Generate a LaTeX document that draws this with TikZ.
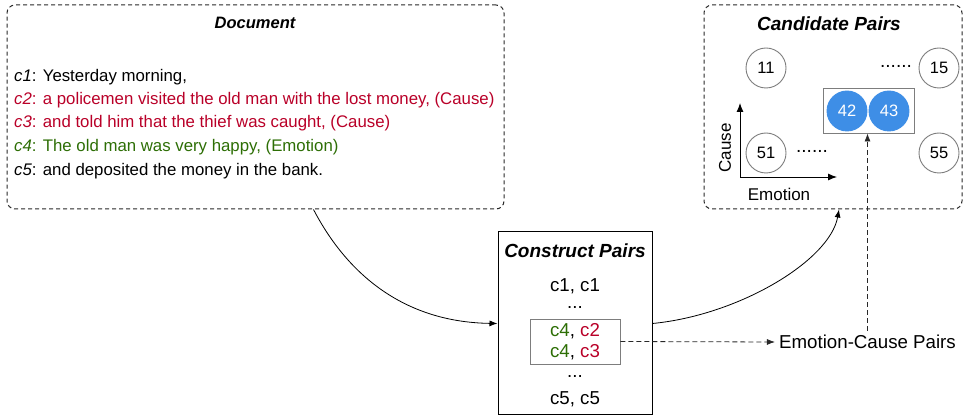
\documentclass[tikz,border=0pt]{standalone}
\usepackage{fontspec}
\setmainfont{Liberation Sans}
\usetikzlibrary{arrows.meta,positioning,calc}
\definecolor{ecred}{RGB}{185,0,40}
\definecolor{ecgreen}{RGB}{45,110,5}
\definecolor{ecblue}{RGB}{62,142,230}
\definecolor{ecgray}{RGB}{125,125,125}
\definecolor{ecdark}{RGB}{40,40,40}

\begin{document}
\begin{tikzpicture}[x=1pt, y=-1pt,
  panel/.style={draw=ecdark, dash pattern=on 4pt off 3pt, rounded corners=8pt,
                line width=1pt, inner sep=0pt},
  title/.style={font=\fontsize{19}{22}\selectfont\bfseries\itshape},
  clause/.style={anchor=west, inner sep=0pt, font=\fontsize{16.8}{20}\selectfont},
  pair/.style={font=\fontsize{18.7}{22}\selectfont, inner sep=0pt},
  cand/.style={circle, draw=ecgray, fill=white, minimum size=40pt, inner sep=0pt,
               line width=0.9pt, font=\fontsize{16.5}{20}\selectfont},
  hit/.style={cand, draw=ecblue, fill=ecblue, text=white},
  selbox/.style={draw=ecgray, line width=0.9pt, inner sep=0pt},
  arr/.style={-{Latex[length=8pt,width=6pt]}, line width=0.8pt},
  darr/.style={arr, dash pattern=on 5pt off 3pt, draw=ecdark},
  axis/.style={-{Latex[length=9pt,width=7pt]}, line width=0.9pt},
]
\useasboundingbox (0,0) rectangle (964,419);

% Document
\node[panel, minimum width=497pt, minimum height=204pt] (doc) at (255.5,107) {};
\node[title, font=\fontsize{16.5}{20}\selectfont\bfseries\itshape] (doctitle) at (255,23) {Document};
\node[clause] (c1) at (14,77)  {\textit{c1}: Yesterday morning,};
\node[clause, text=ecred] (c2) at (14,100) {\textit{c2}: a policemen visited the old man with the lost money, (Cause)};
\node[clause, text=ecred] (c3) at (14,123.5) {\textit{c3}: and told him that the thief was caught, (Cause)};
\node[clause, text=ecgreen] (c4) at (14,147) {\textit{c4}: The old man was very happy, (Emotion)};
\node[clause] (c5) at (14,171) {\textit{c5}: and deposited the money in the bank.};

% Construct Pairs
\node[draw, line width=1pt, minimum width=154pt, minimum height=183pt] (construct) at (575,323.5) {};
\node[title] (contitle) at (575,251) {Construct Pairs};
\node[pair] (p11) at (575,286) {c1, c1};
\node[pair] (dotsa) at (575,308) {...};
\node[selbox, minimum width=90pt, minimum height=45pt, align=center,
      font=\fontsize{18.7}{21.5}\selectfont] (pairsel) at (575,341.5)
  {\textcolor{ecgreen}{c4}, \textcolor{ecred}{c2}\\\textcolor{ecgreen}{c4}, \textcolor{ecred}{c3}};
\node[pair] (dotsb) at (575,377) {...};
\node[pair] (p55) at (575,399) {c5, c5};

% Candidate Pairs
\node[panel, minimum width=258pt, minimum height=204pt] (candbox) at (833,107) {};
\node[title] (candtitle) at (829,24) {Candidate Pairs};
\node[cand] (n11) at (766,68)  {11};
\node[cand] (n15) at (939,68)  {15};
\node[cand] (n51) at (766,153) {51};
\node[cand] (n55) at (939,153) {55};
\node[selbox, minimum width=91pt, minimum height=45pt] (pairbox) at (868.5,110.5) {};
\node[hit] (n42) at (847,111) {42};
\node[hit] (n43) at (889,111) {43};
\node[font=\fontsize{19}{20}\selectfont, inner sep=0pt] (dotsr) at (896,66) {......};
\node[font=\fontsize{19}{20}\selectfont, inner sep=0pt] (dotsl) at (812,151) {......};

% axes
\coordinate (axo) at (740,177);
\coordinate (axc) at (740,103);
\coordinate (axe) at (837,177);
\draw[axis] (axo) -- (axc);
\draw[axis] (axo) -- (axe);
\node[rotate=90, font=\fontsize{17}{20}\selectfont] (causelab) at (725,148) {Cause};
\node[font=\fontsize{17}{20}\selectfont] (emolab) at (779,194) {Emotion};

% output
\node[font=\fontsize{18.7}{22}\selectfont, inner sep=4pt] (ecp) at (867.5,342) {Emotion-Cause Pairs};

% Connections
\draw[arr] ([xshift=58pt]doc.south) .. controls (345,270) and (400,322) .. (construct.west);
\draw[arr] (construct.east) .. controls (740,315) and (830,260) .. ([xshift=6pt]candbox.south);
\draw[darr] (pairsel.east) -- (ecp.west);
\draw[darr] (ecp.north) -- (ecp.north |- pairbox.south);

\end{tikzpicture}
\end{document}
